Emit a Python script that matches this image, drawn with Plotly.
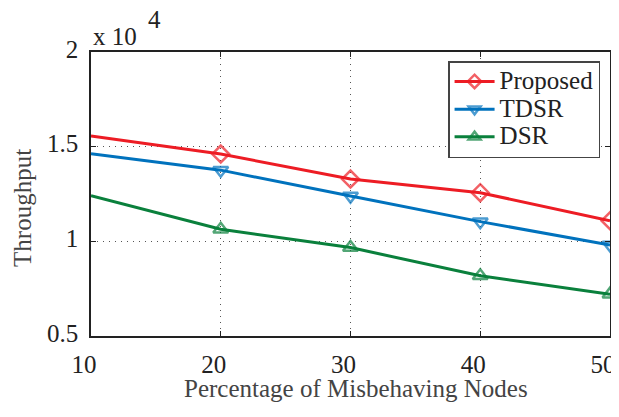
import plotly.graph_objects as go

x_vals = [10, 20, 30, 40, 50]
proposed = [1.557, 1.461, 1.329, 1.257, 1.109]
tdsr = [1.462, 1.376, 1.239, 1.104, 0.981]
dsr = [1.241, 1.064, 0.967, 0.818, 0.721]
x_ticks = [10, 20, 30, 40, 50]
y_ticks = [0.5, 1, 1.5, 2]
y_tick_labels = ["0.5", "1", "1.5", "2"]

font_family = "Liberation Serif, Times New Roman, serif"

series = [
    ("Proposed", proposed, "rgb(237,28,36)", "diamond-open"),
    ("TDSR", tdsr, "rgb(0,114,189)", "triangle-down-open"),
    ("DSR", dsr, "rgb(10,128,60)", "triangle-up-open"),
]

fig = go.Figure()
for name, vals, color, sym in series:
    fig.add_trace(go.Scatter(
        x=x_vals, y=vals, name="<span style='font-size:25px'>" + name + "</span>",
        mode="lines+markers",
        line=dict(color=color, width=3),
        marker=dict(symbol=sym, size=[0] + [13] * (len(vals) - 1),
                    color=color, line=dict(color=color, width=2.5)),
        cliponaxis=False,
    ))

axis_common = dict(
    showline=True, linecolor="#222", linewidth=1.5, mirror="allticks",
    ticks="inside", ticklen=5, tickcolor="#222",
    showgrid=True, gridcolor="#555", griddash="1px,5px", gridwidth=1,
    zeroline=False, automargin=False, ticklabeloverflow="allow",
    tickfont=dict(family=font_family, size=25, color="#222"),
)

# figure is placed at an 8px body offset in the page
fig.update_layout(
    width=611, height=409,
    margin=dict(l=83, r=9, t=44, b=81),
    plot_bgcolor="white", paper_bgcolor="white",
    font=dict(family=font_family),
    showlegend=True,
    legend=dict(
        x=0.688, y=0.968, xanchor="left", yanchor="top",
        bgcolor="white", bordercolor="#444", borderwidth=1.5,
        font=dict(family=font_family, size=19, color="#222"),
        itemwidth=40, tracegroupgap=0,
    ),
    xaxis=dict(
        range=[10, 50], tickvals=x_ticks,
        ticklabelstandoff=5, ticklabelshift=-7,
        **axis_common,
    ),
    yaxis=dict(
        range=[0.5, 2], tickvals=y_ticks, ticktext=y_tick_labels,
        ticklabelstandoff=6, ticklabelshift=-3,
        **axis_common,
    ),
)

fig.add_annotation(x=0.5, y=0, xref="paper", yref="paper", xanchor="center", yanchor="middle",
                   xshift=5, yshift=-52, text="Percentage of Misbehaving Nodes", showarrow=False,
                   font=dict(family=font_family, size=25, color="#444"))
fig.add_annotation(x=0, y=0.451, xref="paper", yref="paper", xanchor="center", yanchor="middle",
                   xshift=-68, textangle=-90, text="Throughput", showarrow=False,
                   font=dict(family=font_family, size=25, color="#444"))
fig.add_annotation(x=0, y=1, xref="paper", yref="paper", xanchor="left", yanchor="bottom",
                   xshift=0, yshift=0, text="x 10", showarrow=False,
                   font=dict(family=font_family, size=25, color="#222"))
fig.add_annotation(x=0, y=1, xref="paper", yref="paper", xanchor="left", yanchor="bottom",
                   xshift=55, yshift=17, text="4", showarrow=False,
                   font=dict(family=font_family, size=25, color="#222"))

fig.write_html("out.html")
